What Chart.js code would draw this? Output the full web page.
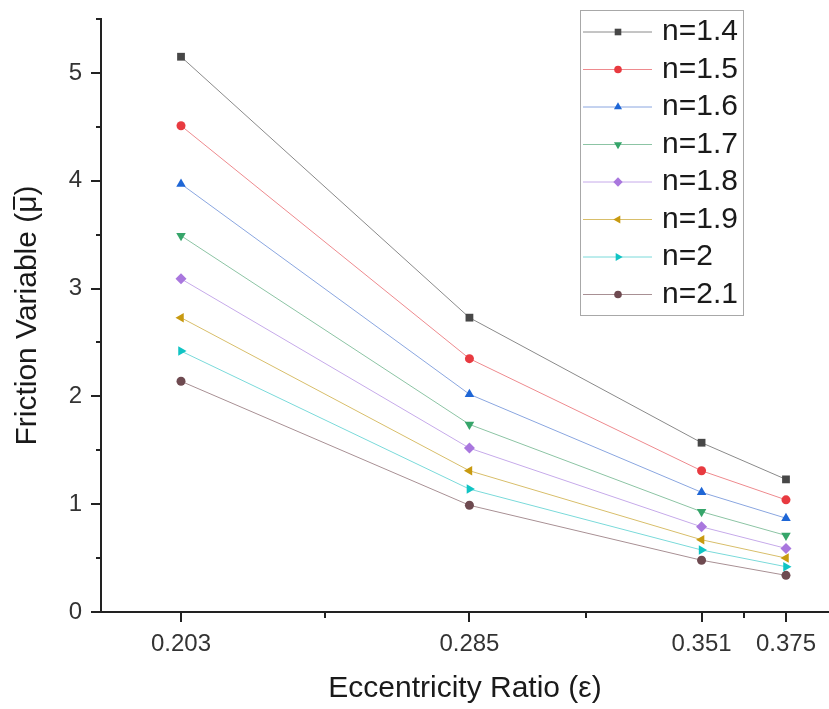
<!DOCTYPE html>
<html>
<head>
<meta charset="utf-8">
<script src="https://cdn.jsdelivr.net/npm/chart.js@4.4.1/dist/chart.umd.min.js"></script>
<style>
html,body{margin:0;padding:0;background:#fff;}
#wrap{width:829px;height:709px;}
</style>
</head>
<body>
<div id="wrap"><canvas id="c" width="829" height="709"></canvas></div>
<script>
// ---- data ----
const eccentricity = [0.203, 0.285, 0.351, 0.375];
const xMinorTicks = [0.244, 0.318, 0.363];
const yMajorTicks = [0, 1, 2, 3, 4, 5];
const yMinorTicks = [0.5, 1.5, 2.5, 3.5, 4.5, 5.5];
const seriesLabels = ['n=1.4', 'n=1.5', 'n=1.6', 'n=1.7', 'n=1.8', 'n=1.9', 'n=2', 'n=2.1'];
const n14 = [5.15, 2.73, 1.57, 1.23];
const n15 = [4.51, 2.35, 1.31, 1.04];
const n16 = [3.97, 2.02, 1.11, 0.87];
const n17 = [3.49, 1.74, 0.93, 0.71];
const n18 = [3.09, 1.52, 0.79, 0.59];
const n19 = [2.73, 1.31, 0.67, 0.50];
const n20 = [2.42, 1.14, 0.575, 0.42];
const n21 = [2.14, 0.99, 0.48, 0.34];
const seriesValues = [n14, n15, n16, n17, n18, n19, n20, n21];

// ---- styles ----
const colors = ['#474747', '#E83A40', '#1E66D6', '#36A56A', '#A977DE', '#C89A10', '#10C4C4', '#6E4A50'];
const lineColors = ['#8a8a8a', '#EE8A8E', '#8AA6E0', '#8CC4A4', '#C6AAEA', '#D8BE6A', '#7ADADA', '#A89094'];
const markers = [
  {style: 'rect', rot: 0, r: 5.5},
  {style: 'circle', rot: 0, r: 4.5},
  {style: 'triangle', rot: 0, r: 5.5},
  {style: 'triangle', rot: 180, r: 5.5},
  {style: 'rectRot', rot: 0, r: 5.5},
  {style: 'triangle', rot: 270, r: 5.5},
  {style: 'triangle', rot: 90, r: 5.5},
  {style: 'circle', rot: 0, r: 4.5}
];
const FONT = '"Liberation Sans", Arial, "DejaVu Sans", sans-serif';

const datasets = seriesValues.map((vals, i) => ({
  label: seriesLabels[i],
  data: eccentricity.map((x, j) => ({x: x, y: vals[j]})),
  borderColor: lineColors[i],
  borderWidth: 1,
  pointStyle: markers[i].style,
  pointRotation: markers[i].rot,
  pointRadius: markers[i].r,
  pointBackgroundColor: colors[i],
  pointBorderColor: colors[i],
  pointBorderWidth: 0,
  tension: 0,
  fill: false,
  clip: false
}));

const minorTicksPlugin = {
  id: 'minorTicks',
  afterDraw(chart) {
    const {ctx, scales: {x, y}} = chart;
    ctx.save();
    ctx.strokeStyle = '#222';
    ctx.lineWidth = 2;
    ctx.beginPath();
    xMinorTicks.forEach(v => {
      const px = Math.round(x.getPixelForValue(v));
      ctx.moveTo(px, x.top);
      ctx.lineTo(px, x.top + 6);
    });
    yMinorTicks.forEach(v => {
      const py = Math.round(y.getPixelForValue(v));
      ctx.moveTo(y.right, py);
      ctx.lineTo(y.right - 5, py);
    });
    ctx.stroke();
    ctx.restore();
  }
};

// overline for the mu in the y-axis title
const muBarPlugin = {
  id: 'muBar',
  afterDraw(chart) {
    const y = chart.scales.y;
    const ctx = chart.ctx;
    const title = y.options.title;
    ctx.save();
    ctx.font = '30px ' + FONT;
    const full = ctx.measureText(title.text).width;
    const before = ctx.measureText('Friction Variable (').width;
    const mu = ctx.measureText('\u03BC').width;
    const cy = (y.top + y.bottom) / 2;
    const startY = cy + full / 2 - before;  // rotated -90: text runs upward
    const cx = 28;
    ctx.strokeStyle = '#1a1a1a';
    ctx.lineWidth = 2;
    ctx.beginPath();
    ctx.moveTo(cx - 14, startY - 3);
    ctx.lineTo(cx - 14, startY - mu + 1);
    ctx.stroke();
    ctx.restore();
  }
};

const boxLegendPlugin = {
  id: 'boxLegend',
  afterDraw(chart) {
    const ctx = chart.ctx;
    ctx.save();
    ctx.strokeStyle = '#a8a8a8';
    ctx.lineWidth = 1;
    ctx.strokeRect(580.5, 10.5, 163, 305);
    chart.data.datasets.forEach((ds, i) => {
      const cy = 32 + i * 37.5;
      ctx.strokeStyle = ds.borderColor;
      ctx.lineWidth = 1;
      ctx.beginPath();
      ctx.moveTo(583, cy);
      ctx.lineTo(652, cy);
      ctx.stroke();
      ctx.fillStyle = ds.pointBackgroundColor;
      ctx.strokeStyle = ds.pointBorderColor;
      Chart.helpers.drawPoint(ctx, {
        pointStyle: ds.pointStyle,
        rotation: ds.pointRotation,
        radius: ds.pointRadius * 0.85,
        borderWidth: 0
      }, 618, cy);
      ctx.fillStyle = '#1a1a1a';
      ctx.font = '30px ' + FONT;
      ctx.textBaseline = 'middle';
      ctx.textAlign = 'left';
      ctx.fillText(ds.label, 662, cy);
    });
    ctx.restore();
  }
};

new Chart(document.getElementById('c'), {
  type: 'line',
  data: {datasets: datasets},
  plugins: [minorTicksPlugin, boxLegendPlugin, muBarPlugin],
  options: {
    responsive: false,
    animation: false,
    devicePixelRatio: 1,
    layout: {autoPadding: false, padding: {top: 19, right: 0, left: 0, bottom: 0}},
    plugins: {legend: {display: false}, tooltip: {enabled: false}},
    scales: {
      x: {
        type: 'linear',
        min: 0.18025,
        max: 0.38723,
        afterBuildTicks: s => { s.ticks = eccentricity.map(v => ({value: v})); },
        afterFit: s => { s.height = 97; s.paddingLeft = 0; s.paddingRight = 0; },
        border: {display: true, color: '#222', width: 2},
        grid: {drawOnChartArea: false, drawTicks: true, tickLength: 10, color: '#222', lineWidth: 2},
        ticks: {
          autoSkip: false, maxRotation: 0, padding: 8, color: '#333',
          font: {family: FONT, size: 24},
          callback: v => v.toFixed(3)
        },
        title: {
          display: true, text: 'Eccentricity Ratio (\u03B5)', color: '#1a1a1a',
          font: {family: FONT, size: 30}, padding: {top: 0, bottom: 2}
        }
      },
      y: {
        type: 'linear',
        min: 0,
        max: 5.5,
        afterBuildTicks: s => { s.ticks = yMajorTicks.map(v => ({value: v})); },
        afterFit: s => { s.width = 101; s.paddingTop = 0; s.paddingBottom = 0; },
        border: {display: true, color: '#222', width: 2},
        grid: {drawOnChartArea: false, drawTicks: true, tickLength: 10, color: '#222', lineWidth: 2},
        ticks: {
          padding: 9, color: '#333',
          font: {family: FONT, size: 24},
          callback: v => String(v)
        },
        title: {
          display: true, text: 'Friction Variable (\u03BC)', color: '#1a1a1a',
          font: {family: FONT, size: 30}, padding: {top: 10, bottom: 0}
        }
      }
    }
  }
});
</script>
</body>
</html>
